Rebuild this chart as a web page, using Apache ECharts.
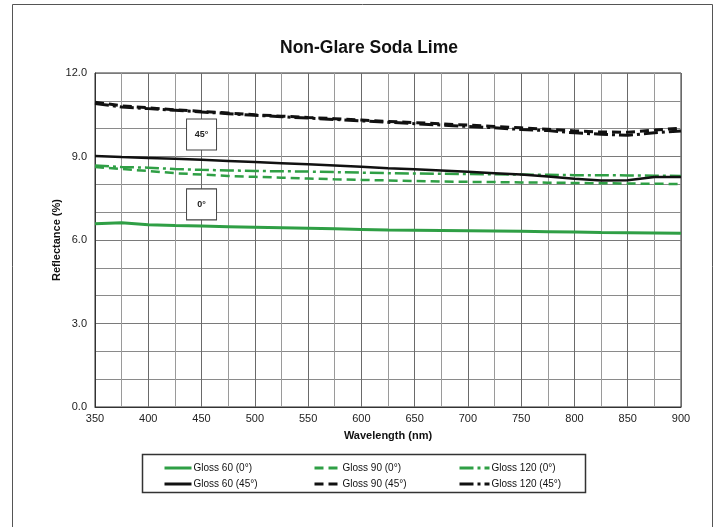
<!DOCTYPE html>
<html>
<head>
<meta charset="utf-8">
<script src="https://cdn.jsdelivr.net/npm/echarts@6/dist/echarts.min.js"></script>
<style>html,body{margin:0;padding:0;background:#fff}#c{width:720px;height:527px}</style>
</head>
<body>
<div id="c"></div>
<script>
const wavelengths = [350,375,400,425,450,475,500,525,550,575,600,625,650,675,700,725,750,775,800,825,850,875,900];
const gloss60_0  = [6.58,6.62,6.55,6.52,6.50,6.48,6.46,6.44,6.42,6.40,6.38,6.36,6.35,6.34,6.33,6.32,6.31,6.30,6.29,6.27,6.26,6.25,6.24];
const gloss90_0  = [8.62,8.55,8.48,8.40,8.35,8.30,8.27,8.24,8.21,8.18,8.16,8.14,8.12,8.10,8.09,8.08,8.07,8.06,8.05,8.04,8.03,8.02,8.01];
const gloss120_0 = [8.68,8.62,8.60,8.55,8.52,8.50,8.48,8.47,8.46,8.44,8.42,8.40,8.39,8.38,8.37,8.36,8.35,8.34,8.33,8.33,8.32,8.31,8.30];
const gloss60_45 = [9.02,8.98,8.95,8.92,8.88,8.84,8.80,8.76,8.72,8.68,8.63,8.58,8.54,8.50,8.45,8.40,8.35,8.28,8.20,8.14,8.15,8.26,8.26];
const gloss90_45 = [10.95,10.82,10.75,10.68,10.62,10.56,10.50,10.45,10.40,10.36,10.31,10.26,10.22,10.17,10.13,10.08,10.03,9.98,9.92,9.88,9.87,9.95,10.02];
const gloss120_45= [10.90,10.78,10.72,10.66,10.60,10.54,10.48,10.43,10.38,10.33,10.28,10.23,10.18,10.13,10.08,10.03,9.97,9.93,9.85,9.80,9.76,9.85,9.92];
const seriesNames = ['Gloss 60 (0°)','Gloss 90 (0°)','Gloss 120 (0°)','Gloss 60 (45°)','Gloss 90 (45°)','Gloss 120 (45°)'];
const annotLabels = ['45°','0°'];
const annotX = [450,450];
const annotY = [9.79,7.28];

const GREEN = '#2f9f45', BLACK = '#111';
const FONT = "'Liberation Sans Narrow','Liberation Sans',Arial,sans-serif";
const pairs = arr => wavelengths.map((w,i)=>[w,arr[i]]);
const DASH = [9,5];
const DASHDOT = [14,4,3,4];

function mk(name, arr, color, type, width, extra){
  return Object.assign({
    name, type:'line', data:pairs(arr), symbol:'none', showSymbol:false,
    lineStyle:{color, type, width}, itemStyle:{color}, animation:false
  }, extra||{});
}

function lg(names, left, w){
  return {data:names,orient:'vertical',left,top:458,itemWidth:w,itemHeight:12,itemGap:6,
    itemStyle:{opacity:0},lineStyle:{width:3},
    textStyle:{fontFamily:FONT,fontSize:10,color:'#111',padding:[0,0,0,-3]}};
}

const chart = echarts.init(document.getElementById('c'));
chart.setOption({
  animation:false,
  textStyle:{fontFamily:FONT},
  grid:{left:95,right:39,top:73,bottom:120,show:true,borderColor:'#333',borderWidth:1,backgroundColor:'#fff'},
  xAxis:{
    type:'value',min:350,max:900,interval:50,
    name:'Wavelength (nm)',nameLocation:'middle',nameGap:23,nameMoveOverlap:false,
    nameTextStyle:{fontFamily:FONT,fontWeight:'bold',fontSize:11,color:'#111'},
    axisLine:{show:true,lineStyle:{color:'#333'}},
    axisTick:{show:false},
    axisLabel:{fontFamily:FONT,fontSize:11,color:'#222',margin:6},
    splitLine:{show:true,lineStyle:{color:'#6a6a6a',width:1}},
    minorTick:{show:false,splitNumber:2},
    minorSplitLine:{show:true,lineStyle:{color:'#9a9a9a',width:1}}
  },
  yAxis:{
    type:'value',min:0,max:12,interval:3,
    name:'Reflectance (%)',nameLocation:'middle',nameGap:33,nameMoveOverlap:false,
    nameTextStyle:{fontFamily:FONT,fontWeight:'bold',fontSize:11,color:'#111'},
    axisLine:{show:true,lineStyle:{color:'#333'}},
    axisTick:{show:false},
    axisLabel:{fontFamily:FONT,fontSize:11,color:'#222',margin:8,formatter:v=>v.toFixed(1)},
    splitLine:{show:true,lineStyle:{color:'#7a7a7a',width:1}},
    minorTick:{show:false,splitNumber:3},
    minorSplitLine:{show:true,lineStyle:{color:'#8a8a8a',width:1}}
  },
  legend:[
    lg([seriesNames[0],seriesNames[3]],158,27),
    lg([seriesNames[1],seriesNames[4]],308,26),
    lg([seriesNames[2],seriesNames[5]],453,30)
  ],
  graphic:[
    {type:'rect',shape:{x:12.5,y:4.5,width:700,height:540},style:{fill:'none',stroke:'#555',lineWidth:1},silent:true,z:-10},
    {type:'rect',shape:{x:142.5,y:454.5,width:443,height:38},style:{fill:'none',stroke:'#333',lineWidth:1.5},silent:true},
    {type:'text',x:369,y:48,style:{text:'Non-Glare Soda Lime',fontFamily:FONT,fontSize:17.5,fontWeight:'bold',fill:'#111',textAlign:'center',textVerticalAlign:'middle'},silent:true}
  ],
  series:[
    mk(seriesNames[0],gloss60_0,GREEN,'solid',3),
    mk(seriesNames[1],gloss90_0,GREEN,DASH,2.5),
    mk(seriesNames[2],gloss120_0,GREEN,DASHDOT,2.5),
    mk(seriesNames[3],gloss60_45,BLACK,'solid',2.5,{
      markPoint:{
        symbol:'rect',symbolSize:[30,31],silent:true,animation:false,
        itemStyle:{color:'#fff',borderColor:'#444',borderWidth:1,opacity:1},
        label:{show:true,formatter:'{b}',color:'#222',fontSize:9,fontWeight:'bold',fontFamily:FONT},
        data:annotLabels.map((t,i)=>({name:t,coord:[annotX[i],annotY[i]]}))
      }
    }),
    mk(seriesNames[4],gloss90_45,BLACK,DASH,3),
    mk(seriesNames[5],gloss120_45,BLACK,DASHDOT,3)
  ]
});
</script>
</body>
</html>
